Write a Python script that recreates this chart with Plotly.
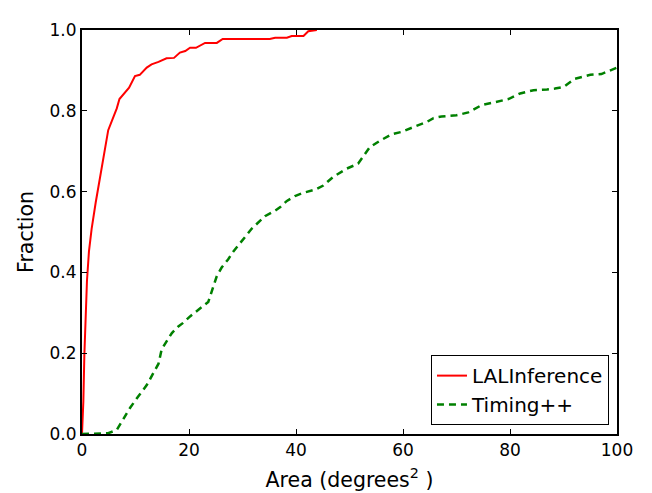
import plotly.graph_objects as go

# LALInference cumulative fraction vs searched area
red_x = [0, 0.25, 0.44, 0.69, 0.93, 1.3, 1.8, 2.56, 3.36, 4.17, 4.9, 6.5, 7.0, 8.8, 9.9,
         10.8, 12.1, 13.0, 14.3, 15.8, 17.2, 18.3, 19.3, 20.2, 21.3, 23.0, 25.2, 26.3, 35.1,
         36.1, 38.3, 39.2, 41.4, 42.3, 43.9]
red_y = [0, 0.08, 0.195, 0.307, 0.38, 0.452, 0.508, 0.573, 0.637, 0.702, 0.752, 0.806, 0.829,
         0.857, 0.886, 0.889, 0.907, 0.915, 0.921, 0.930, 0.931, 0.944, 0.948, 0.956, 0.956,
         0.968, 0.968, 0.978, 0.978, 0.981, 0.981, 0.985, 0.985, 0.997, 1.0]

# Timing++ cumulative fraction vs searched area
green_x = [0, 4.9, 6.5, 7.7, 9.0, 10.5, 12.1, 13.3, 14.3, 14.9, 15.8, 16.8, 18.0, 18.9, 20.2,
           22.4, 23.6, 24.5, 25.2, 26.1, 27.3, 28.3, 29.2, 30.5, 31.7, 33.0, 34.2, 36.1, 37.0,
           38.3, 39.8, 41.4, 43.6, 45.1, 47.0, 49.5, 51.6, 53.8, 55.7, 57.9, 59.8, 62.2, 64.4,
           65.7, 67.2, 70.0, 72.2, 74.7, 77.5, 79.7, 81.9, 84.4, 86.9, 88.4, 90.0, 92.1, 95.0,
           97.1, 100]
green_y = [0, 0.002, 0.01, 0.037, 0.065, 0.093, 0.121, 0.15, 0.174, 0.21, 0.23, 0.25, 0.266,
           0.275, 0.291, 0.315, 0.327, 0.363, 0.391, 0.412, 0.432, 0.452, 0.468, 0.488, 0.508,
           0.524, 0.539, 0.553, 0.561, 0.577, 0.589, 0.597, 0.605, 0.615, 0.637, 0.657, 0.669,
           0.71, 0.726, 0.742, 0.748, 0.761, 0.772, 0.782, 0.786, 0.789, 0.796, 0.814, 0.823,
           0.829, 0.843, 0.851, 0.853, 0.855, 0.859, 0.879, 0.889, 0.891, 0.907]

x_ticks = [0, 20, 40, 60, 80, 100]
y_ticks = [0.0, 0.2, 0.4, 0.6, 0.8, 1.0]
y_ticklabels = ["0.0", "0.2", "0.4", "0.6", "0.8", "1.0"]

FONT = "DejaVu Sans"

fig = go.Figure()
fig.add_trace(go.Scatter(x=red_x, y=red_y, mode="lines", name="LALInference",
                         legendgroup="a",
                         line=dict(color="#ff0000", width=2)))
fig.add_trace(go.Scatter(x=green_x, y=green_y, mode="lines", name="Timing++",
                         legendgroup="b",
                         line=dict(color="#008000", width=2.5, dash="7px,5px")))

axis_common = dict(showgrid=False, zeroline=False, showline=True, linecolor="black",
                   linewidth=2, mirror="ticks", ticks="inside", ticklen=5, tickwidth=1,
                   tickcolor="black", tickfont=dict(family=FONT, size=17, color="black"))

fig.update_xaxes(range=[0, 100], tickvals=x_ticks, ticktext=[str(v) for v in x_ticks],
                 title=dict(text="Area (degrees<sup>2</sup> )", standoff=13,
                            font=dict(family=FONT, size=20.5, color="black")),
                 **axis_common)
fig.update_yaxes(range=[0, 1], tickvals=y_ticks, ticktext=y_ticklabels,
                 title=dict(text="Fraction", standoff=10,
                            font=dict(family=FONT, size=20.5, color="black")),
                 **axis_common)

fig.update_layout(
    width=652, height=493,
    margin=dict(l=74, r=43, t=12, b=67),
    plot_bgcolor="white", paper_bgcolor="white",
    font=dict(family=FONT, size=17, color="black"),
    legend=dict(x=0.985, y=0.022, xanchor="right", yanchor="bottom",
                bgcolor="white", bordercolor="black", borderwidth=1,
                font=dict(family=FONT, size=20, color="black"),
                traceorder="grouped", tracegroupgap=0),
    showlegend=True,
)

fig.write_html("out.html")
